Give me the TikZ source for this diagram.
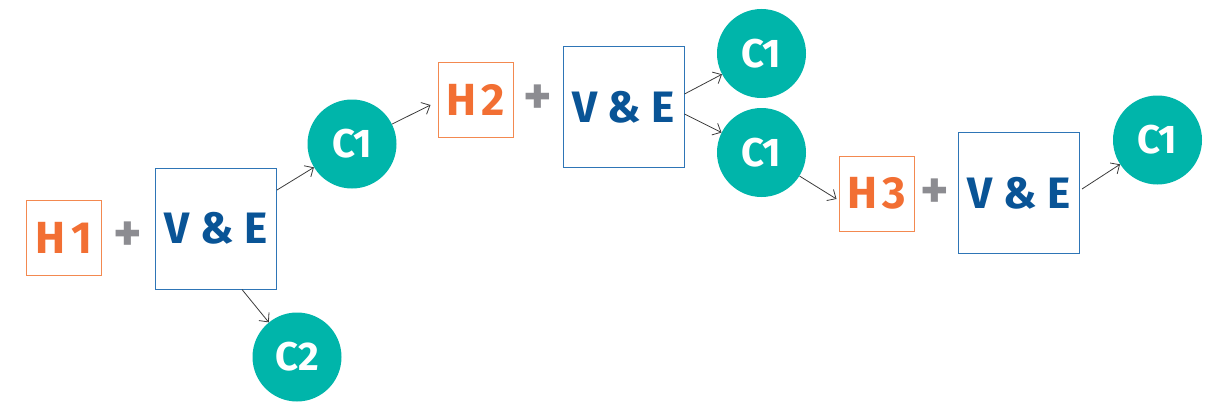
\documentclass[tikz,border=0pt]{standalone}
\usepackage{fontspec}
\setmainfont{Fira Sans}
\usetikzlibrary{arrows.meta,calc}
\definecolor{tealc}{RGB}{0,181,170}
\definecolor{orangeT}{RGB}{242,111,51}
\definecolor{orangeB}{RGB}{243,137,80}
\definecolor{blueT}{RGB}{9,84,150}
\definecolor{blueB}{RGB}{46,117,182}
\definecolor{plusc}{RGB}{140,140,145}
\definecolor{arrc}{RGB}{60,60,60}
\begin{document}
\begin{tikzpicture}[x=1pt,y=-1pt,
  hbox/.style={draw=orangeB, line width=1pt, minimum size=75pt, inner sep=0pt, text=orangeT,
    font=\fontsize{45}{45}\selectfont\bfseries\addfontfeatures{LetterSpace=12}},
  vebox/.style={draw=blueB, line width=1pt, minimum size=121pt, inner sep=0pt, text=blueT,
    font=\fontsize{44}{44}\selectfont\bfseries},
  cnode/.style={circle, fill=tealc, minimum size=89pt, inner sep=0pt, text=white,
    font=\fontsize{40}{40}\selectfont\bfseries},
  plus/.style={text=plusc, inner sep=0pt, font=\fontsize{54}{54}\selectfont\bfseries},
  arr/.style={draw=arrc, line width=0.8pt, -{Straight Barb[length=7pt,width=13pt]}}
]
\useasboundingbox (0,0) rectangle (1210,404);
% first group
\node[hbox] (h1) at (64,238) {H1};
\node[plus] (p1) at (128,237) {+};
\node[vebox] (ve1) at (216,228.5) {V \& E};
\node[cnode] (c1a) at (352,144) {C1};
\node[cnode] (c2) at (297,357) {C2};
% second group
\node[hbox] (h2) at (475.5,100) {H2};
\node[plus] (p2) at (538,100) {+};
\node[vebox] (ve2) at (623.5,107) {V \& E};
\node[cnode] (c1b) at (761.5,53.5) {C1};
\node[cnode] (c1c) at (761.5,152.5) {C1};
% third group
\node[hbox] (h3) at (876.5,193.5) {H3};
\node[plus] (p3) at (935,194) {+};
\node[vebox] (ve3) at (1019,193) {V \& E};
\node[cnode] (c1d) at (1157.5,140) {C1};
% connectors
\draw[arr] ([yshift=38.5pt]ve1.east) -- (c1a);
\draw[arr] ([xshift=26pt]ve1.south) -- (c2);
\draw[arr] (c1a) -- ([xshift=-7pt,yshift=-5pt]h2.west);
\draw[arr] ([yshift=13pt]ve2.east) -- (c1b);
\draw[arr] ([yshift=-7pt]ve2.east) -- (c1c);
\draw[arr] (c1c) -- ([xshift=-2pt,yshift=-5.5pt]h3.west);
\draw[arr] ([xshift=2pt,yshift=4pt]ve3.east) -- (c1d);
\end{tikzpicture}
\end{document}
